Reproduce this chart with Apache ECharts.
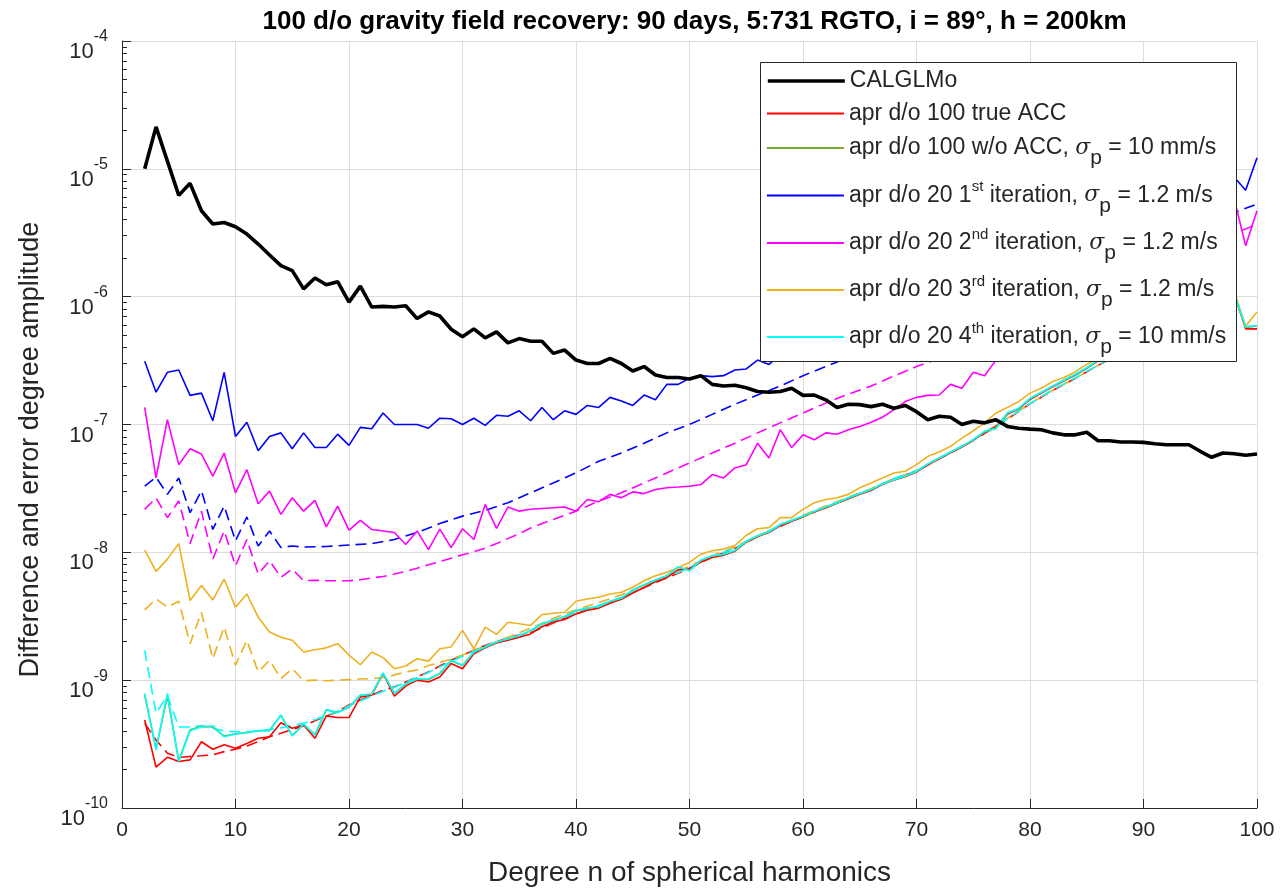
<!DOCTYPE html>
<html><head><meta charset="utf-8">
<script src="https://cdn.jsdelivr.net/npm/echarts@6/dist/echarts.min.js"></script>
<style>html,body{margin:0;padding:0;background:#fff}#c{width:1281px;height:892px}</style>
</head><body><div id="c"></div>
<script>
// ---------- data ----------
const degrees = [2,3,4,5,6,7,8,9,10,11,12,13,14,15,16,17,18,19,20,21,22,23,24,25,26,27,28,29,30,31,32,33,34,35,36,37,38,39,40,41,42,43,44,45,46,47,48,49,50,51,52,53,54,55,56,57,58,59,60,61,62,63,64,65,66,67,68,69,70,71,72,73,74,75,76,77,78,79,80,81,82,83,84,85,86,87,88,89,90,91,92,93,94,95,96,97,98,99,100];

const calglmo = [1.0e-5,2.13e-5,1.15e-5,6.2e-6,7.7e-6,4.7e-6,3.7e-6,3.8e-6,3.52e-6,3.09e-6,
2.58e-6,2.12e-6,1.75e-6,1.6e-6,1.15e-6,1.4e-6,1.24e-6,1.31e-6,9.07e-7,1.21e-6,
8.3e-7,8.4e-7,8.3e-7,8.5e-7,6.74e-7,7.6e-7,7.06e-7,5.56e-7,4.85e-7,5.6e-7,
4.76e-7,5.3e-7,4.35e-7,4.7e-7,4.48e-7,4.48e-7,3.6e-7,3.82e-7,3.19e-7,3.0e-7,
3.0e-7,3.29e-7,3.0e-7,2.62e-7,2.84e-7,2.44e-7,2.33e-7,2.33e-7,2.27e-7,2.41e-7,
2.06e-7,2.0e-7,2.03e-7,1.94e-7,1.81e-7,1.79e-7,1.81e-7,1.92e-7,1.69e-7,1.7e-7,
1.56e-7,1.36e-7,1.44e-7,1.43e-7,1.38e-7,1.44e-7,1.34e-7,1.41e-7,1.26e-7,1.09e-7,
1.16e-7,1.14e-7,1.0e-7,1.06e-7,1.03e-7,1.09e-7,9.66e-8,9.35e-8,9.2e-8,9.1e-8,
8.6e-8,8.3e-8,8.3e-8,8.7e-8,7.46e-8,7.46e-8,7.3e-8,7.3e-8,7.25e-8,7.07e-8,
6.95e-8,6.95e-8,6.95e-8,6.17e-8,5.54e-8,5.98e-8,5.9e-8,5.74e-8,5.87e-8];

const trueAcc = [4.88e-10,2.09e-10,2.49e-10,2.31e-10,2.38e-10,3.3e-10,2.88e-10,3.12e-10,2.93e-10,3.2e-10,
3.51e-10,3.61e-10,4.65e-10,4.2e-10,4.46e-10,3.51e-10,5.25e-10,5.1e-10,5.1e-10,7.4e-10,
7.63e-10,1.13e-9,7.5e-10,8.98e-10,1.0e-9,9.69e-10,1.06e-9,1.35e-9,1.23e-9,1.61e-9,
1.79e-9,1.95e-9,2.05e-9,2.17e-9,2.3e-9,2.62e-9,2.85e-9,2.98e-9,3.3e-9,3.52e-9,
3.66e-9,4.0e-9,4.3e-9,4.8e-9,5.3e-9,5.9e-9,6.35e-9,7.3e-9,7.4e-9,8.4e-9,
9.1e-9,9.5e-9,1.02e-8,1.2e-8,1.33e-8,1.43e-8,1.62e-8,1.75e-8,1.9e-8,2.08e-8,
2.22e-8,2.42e-8,2.62e-8,2.85e-8,3.05e-8,3.4e-8,3.68e-8,3.9e-8,4.25e-8,4.85e-8,
5.4e-8,6.0e-8,6.65e-8,7.5e-8,8.7e-8,9.6e-8,1.2e-7,1.32e-7,1.57e-7,1.76e-7,
1.97e-7,2.2e-7,2.44e-7,2.75e-7,3.15e-7,3.45e-7,3.85e-7,4.25e-7,4.65e-7,5.15e-7,
5.65e-7,6.2e-7,6.8e-7,7.5e-7,8.3e-7,9.2e-7,1.04e-6,5.6e-7,5.6e-7];

const woAcc = [7.6e-10,2.9e-10,7.5e-10,2.35e-10,4.1e-10,4.35e-10,4.3e-10,3.65e-10,3.8e-10,3.9e-10,
4.0e-10,4.05e-10,5.3e-10,3.7e-10,4.5e-10,3.75e-10,5.85e-10,5.6e-10,6.15e-10,7.6e-10,
7.8e-10,1.13e-9,7.9e-10,9.3e-10,1.02e-9,1.01e-9,1.12e-9,1.42e-9,1.3e-9,1.65e-9,
1.81e-9,1.98e-9,2.1e-9,2.23e-9,2.43e-9,2.74e-9,2.94e-9,3.13e-9,3.48e-9,3.65e-9,
3.75e-9,4.12e-9,4.37e-9,5.05e-9,5.55e-9,6.04e-9,6.54e-9,7.65e-9,7.2e-9,8.65e-9,
9.35e-9,9.62e-9,1.03e-8,1.21e-8,1.34e-8,1.44e-8,1.64e-8,1.77e-8,1.91e-8,2.09e-8,
2.25e-8,2.43e-8,2.66e-8,2.87e-8,3.09e-8,3.42e-8,3.7e-8,3.93e-8,4.3e-8,4.9e-8,
5.45e-8,6.07e-8,6.73e-8,7.58e-8,8.8e-8,9.3e-8,1.22e-7,1.33e-7,1.59e-7,1.78e-7,
1.99e-7,2.22e-7,2.46e-7,2.77e-7,3.18e-7,3.49e-7,3.89e-7,4.29e-7,4.69e-7,5.19e-7,
5.69e-7,6.29e-7,6.89e-7,7.59e-7,8.39e-7,9.29e-7,1.04e-6,5.75e-7,5.9e-7];

const iter1 = [3.13e-7,1.79e-7,2.56e-7,2.67e-7,1.69e-7,1.76e-7,1.07e-7,2.56e-7,8.07e-8,1.04e-7,
6.23e-8,8.07e-8,8.6e-8,6.47e-8,8.6e-8,6.6e-8,6.6e-8,8.4e-8,6.87e-8,9.5e-8,
9.25e-8,1.23e-7,1.0e-7,1.0e-7,1.0e-7,9.35e-8,1.12e-7,1.11e-7,1.0e-7,1.12e-7,
9.85e-8,1.18e-7,1.16e-7,1.28e-7,1.07e-7,1.36e-7,1.09e-7,1.28e-7,1.2e-7,1.41e-7,
1.36e-7,1.63e-7,1.53e-7,1.41e-7,1.7e-7,1.56e-7,2.06e-7,2.06e-7,2.3e-7,2.41e-7,
2.37e-7,2.41e-7,2.67e-7,2.72e-7,3.19e-7,2.95e-7,3.5e-7,3.7e-7,4.0e-7,4.2e-7,
4.7e-7,4.9e-7,5.6e-7,5.9e-7,6.5e-7,6.9e-7,7.8e-7,8.2e-7,9.0e-7,9.8e-7,
1.08e-6,1.15e-6,1.28e-6,1.36e-6,1.5e-6,1.62e-6,1.78e-6,1.9e-6,2.1e-6,2.25e-6,
2.5e-6,2.65e-6,2.9e-6,3.1e-6,3.4e-6,3.7e-6,4.0e-6,4.3e-6,4.7e-6,5.0e-6,
5.5e-6,5.9e-6,6.4e-6,6.9e-6,7.4e-6,8.0e-6,8.6e-6,6.8e-6,1.22e-5];

const iter2 = [1.36e-7,3.82e-8,1.09e-7,4.85e-8,6.47e-8,5.87e-8,3.94e-8,5.98e-8,2.92e-8,4.43e-8,
2.4e-8,3.01e-8,1.98e-8,2.67e-8,2.1e-8,2.55e-8,1.58e-8,2.3e-8,1.49e-8,1.78e-8,
1.51e-8,1.47e-8,1.43e-8,1.15e-8,1.47e-8,1.05e-8,1.52e-8,1.09e-8,1.53e-8,1.26e-8,
2.37e-8,1.54e-8,2.26e-8,2.1e-8,2.17e-8,2.2e-8,2.23e-8,2.26e-8,2.1e-8,2.59e-8,
2.49e-8,2.84e-8,2.67e-8,2.97e-8,2.88e-8,3.1e-8,3.2e-8,3.24e-8,3.29e-8,3.39e-8,
4.06e-8,3.82e-8,4.57e-8,4.85e-8,7.14e-8,5.47e-8,9.1e-8,6.6e-8,8.3e-8,7.6e-8,
8.6e-8,8.4e-8,9.1e-8,9.66e-8,1.04e-7,1.14e-7,1.3e-7,1.51e-7,1.63e-7,1.69e-7,
1.7e-7,2.06e-7,1.92e-7,2.56e-7,2.41e-7,3.19e-7,3.6e-7,4.1e-7,4.5e-7,5.2e-7,
5.8e-7,6.6e-7,7.4e-7,8.4e-7,9.5e-7,1.07e-6,1.2e-6,1.36e-6,1.55e-6,1.75e-6,
2.0e-6,2.3e-6,2.65e-6,3.0e-6,3.5e-6,4.3e-6,5.8e-6,2.5e-6,4.7e-6];

const iter3 = [1.04e-8,7.1e-9,8.85e-9,1.17e-8,4.2e-9,5.5e-9,4.24e-9,6.18e-9,3.72e-9,4.72e-9,
3.11e-9,2.38e-9,2.17e-9,2.05e-9,1.66e-9,1.73e-9,1.79e-9,1.93e-9,1.57e-9,1.32e-9,
1.66e-9,1.5e-9,1.23e-9,1.29e-9,1.47e-9,1.41e-9,1.76e-9,1.82e-9,2.45e-9,1.76e-9,
2.6e-9,2.28e-9,2.84e-9,2.76e-9,2.68e-9,3.26e-9,3.34e-9,3.4e-9,4.14e-9,4.32e-9,
4.45e-9,4.72e-9,4.87e-9,5.33e-9,6.0e-9,6.57e-9,6.97e-9,7.62e-9,8.33e-9,9.67e-9,
1.03e-8,1.06e-8,1.13e-8,1.36e-8,1.53e-8,1.56e-8,1.87e-8,1.87e-8,2.17e-8,2.44e-8,
2.59e-8,2.67e-8,2.84e-8,3.2e-8,3.49e-8,3.82e-8,4.18e-8,4.31e-8,4.85e-8,5.64e-8,
6.09e-8,6.75e-8,7.82e-8,8.94e-8,1.03e-7,1.23e-7,1.36e-7,1.51e-7,1.76e-7,1.92e-7,
2.17e-7,2.33e-7,2.59e-7,2.95e-7,3.29e-7,3.6e-7,4.0e-7,4.4e-7,4.9e-7,5.4e-7,
5.9e-7,6.5e-7,7.1e-7,7.9e-7,8.7e-7,9.6e-7,1.1e-6,5.9e-7,7.6e-7];

const iter4 = [7.87e-10,2.85e-10,7.87e-10,2.31e-10,4.03e-10,4.32e-10,4.38e-10,3.61e-10,3.79e-10,3.88e-10,
4.03e-10,4.03e-10,5.34e-10,3.66e-10,4.54e-10,3.73e-10,5.9e-10,5.56e-10,6.19e-10,7.63e-10,
7.77e-10,1.14e-9,7.87e-10,9.4e-10,1.02e-9,1.02e-9,1.13e-9,1.43e-9,1.31e-9,1.66e-9,
1.82e-9,1.99e-9,2.11e-9,2.24e-9,2.45e-9,2.76e-9,2.96e-9,3.15e-9,3.51e-9,3.67e-9,
3.77e-9,4.14e-9,4.39e-9,5.08e-9,5.59e-9,6.07e-9,6.57e-9,7.7e-9,7.17e-9,8.7e-9,
9.4e-9,9.67e-9,1.04e-8,1.22e-8,1.35e-8,1.45e-8,1.65e-8,1.78e-8,1.92e-8,2.1e-8,
2.26e-8,2.44e-8,2.67e-8,2.88e-8,3.1e-8,3.43e-8,3.71e-8,3.94e-8,4.31e-8,4.92e-8,
5.47e-8,6.09e-8,6.75e-8,7.6e-8,8.84e-8,9.35e-8,1.23e-7,1.34e-7,1.6e-7,1.79e-7,
2.0e-7,2.23e-7,2.47e-7,2.78e-7,3.19e-7,3.5e-7,3.9e-7,4.3e-7,4.7e-7,5.2e-7,
5.7e-7,6.3e-7,6.9e-7,7.6e-7,8.4e-7,9.3e-7,1.05e-6,5.8e-7,5.95e-7];

// dashed companion curves: [degree, value]
const trueAccDashed = [[2,4.59e-10],[3,3.41e-10],[4,2.68e-10],[5,2.49e-10],[6,2.53e-10],[7,2.56e-10],[8,2.6e-10],[9,2.76e-10],[10,2.88e-10],[11,3.06e-10],[12,3.3e-10],[13,3.61e-10],[14,3.84e-10],[15,4.12e-10],[16,4.38e-10],[17,4.82e-10],[18,5.25e-10],[19,5.66e-10],[20,6.39e-10],[21,6.98e-10],[22,7.63e-10],[23,8.34e-10],[24,8.86e-10],[25,9.69e-10],[26,1.06e-9],[27,1.16e-9],[28,1.29e-9],[29,1.43e-9],[30,1.57e-9],[31,1.71e-9],[32,1.87e-9],[33,2.0e-9],[34,2.15e-9],[35,2.25e-9],[36,2.35e-9],[38,2.8e-9],[40,3.3e-9],[42,3.8e-9],[44,4.4e-9],[46,5.3e-9],[48,6.3e-9],[50,7.5e-9],[52,9.2e-9],[54,1.07e-8],[56,1.33e-8],[58,1.6e-8],[60,1.9e-8],[62,2.25e-8],[64,2.65e-8],[66,3.1e-8],[68,3.75e-8],[70,4.3e-8],[72,5.4e-8],[74,6.7e-8],[76,8.5e-8],[78,1.1e-7],[80,1.45e-7],[82,1.85e-7],[84,2.3e-7],[86,2.9e-7],[88,3.6e-7],[90,4.5e-7],[92,5.5e-7],[94,6.8e-7],[96,8.3e-7]];
const iter1Dashed = [[2,3.29e-8],[3,3.87e-8],[4,2.84e-8],[5,3.82e-8],[6,2.04e-8],[7,3.04e-8],[8,1.51e-8],[9,2.3e-8],[10,1.23e-8],[11,1.89e-8],[12,1.12e-8],[13,1.47e-8],[14,1.09e-8],[15,1.12e-8],[16,1.1e-8],[18,1.11e-8],[20,1.14e-8],[22,1.17e-8],[24,1.26e-8],[26,1.43e-8],[28,1.68e-8],[30,1.92e-8],[32,2.13e-8],[34,2.44e-8],[36,2.92e-8],[38,3.49e-8],[40,4.18e-8],[42,5.16e-8],[44,5.98e-8],[46,7.14e-8],[48,8.6e-8],[50,1.0e-7],[52,1.2e-7],[54,1.44e-7],[56,1.7e-7],[58,2.0e-7],[60,2.41e-7],[62,2.84e-7],[64,3.33e-7],[68,4.5e-7],[72,6.2e-7],[76,8.4e-7],[80,1.14e-6],[84,1.55e-6],[88,2.1e-6],[92,2.9e-6],[96,3.9e-6],[100,5.3e-6]];
const iter2Dashed = [[2,2.17e-8],[3,2.67e-8],[4,1.87e-8],[5,2.52e-8],[6,1.17e-8],[7,2.1e-8],[8,8.85e-9],[9,1.47e-8],[10,7.86e-9],[11,1.26e-8],[12,6.76e-9],[13,8.6e-9],[14,6.38e-9],[15,7.39e-9],[16,6.0e-9],[17,6.05e-9],[18,6.0e-9],[19,6.0e-9],[20,6.0e-9],[21,6.1e-9],[22,6.3e-9],[23,6.48e-9],[24,6.76e-9],[25,7.1e-9],[26,7.52e-9],[27,8.0e-9],[28,8.46e-9],[29,9.0e-9],[30,9.57e-9],[31,1.01e-8],[32,1.08e-8],[33,1.17e-8],[34,1.28e-8],[35,1.4e-8],[36,1.55e-8],[38,1.81e-8],[40,2.1e-8],[42,2.52e-8],[44,2.92e-8],[46,3.49e-8],[48,4.18e-8],[50,5.0e-8],[52,5.98e-8],[54,7.14e-8],[56,8.6e-8],[58,1.03e-7],[60,1.23e-7],[62,1.47e-7],[64,1.73e-7],[66,2.0e-7],[68,2.39e-7],[70,2.84e-7],[72,3.29e-7],[76,4.65e-7],[80,6.6e-7],[84,9.3e-7],[88,1.31e-6],[92,1.85e-6],[96,2.6e-6],[100,3.7e-6]];
const iter3Dashed = [[2,3.55e-9],[3,4.32e-9],[4,3.72e-9],[5,4.14e-9],[6,1.93e-9],[7,3.4e-9],[8,1.47e-9],[9,2.6e-9],[10,1.31e-9],[11,2.05e-9],[12,1.16e-9],[13,1.43e-9],[14,1.03e-9],[15,1.23e-9],[16,0.99e-9],[17,1.0e-9],[18,0.99e-9],[19,1.0e-9],[20,1.01e-9],[21,1.02e-9],[22,1.03e-9],[23,1.05e-9],[24,1.1e-9],[25,1.16e-9],[26,1.2e-9],[27,1.3e-9],[28,1.38e-9],[29,1.46e-9],[30,1.57e-9],[31,1.73e-9],[32,1.84e-9],[33,2.0e-9],[34,2.17e-9],[35,2.35e-9],[36,2.55e-9],[38,3.05e-9],[40,3.55e-9],[42,4.05e-9],[44,4.65e-9],[46,5.55e-9],[48,6.6e-9],[50,7.8e-9],[52,9.4e-9],[54,1.1e-8],[56,1.35e-8],[58,1.62e-8],[60,1.95e-8],[62,2.3e-8],[64,2.7e-8],[66,3.15e-8],[68,3.78e-8],[70,4.35e-8],[72,5.45e-8],[74,6.75e-8],[76,8.6e-8],[78,1.12e-7],[80,1.45e-7],[82,1.85e-7],[84,2.3e-7],[86,2.9e-7],[88,3.6e-7],[90,4.5e-7],[92,5.5e-7],[94,6.8e-7],[96,8.3e-7]];
const iter4Dashed = [[2,1.71e-9],[3,5.5e-10],[4,7.6e-10],[5,4.3e-10],[6,4.3e-10],[7,4.4e-10],[8,4.2e-10],[9,4.0e-10],[10,3.95e-10],[11,3.95e-10],[12,4.0e-10],[13,4.1e-10],[14,4.25e-10],[15,4.4e-10],[16,4.6e-10],[17,4.9e-10],[18,5.3e-10],[19,5.7e-10],[20,6.3e-10],[21,6.9e-10],[22,7.5e-10],[23,8.2e-10],[24,8.8e-10],[25,9.6e-10],[26,1.05e-9],[27,1.15e-9],[28,1.27e-9],[29,1.4e-9],[30,1.54e-9],[31,1.68e-9],[32,1.84e-9],[33,1.98e-9],[34,2.12e-9],[35,2.25e-9],[36,2.38e-9],[38,2.85e-9],[40,3.35e-9],[42,3.85e-9],[44,4.45e-9],[46,5.35e-9],[48,6.4e-9],[50,7.6e-9],[52,9.3e-9],[54,1.08e-8],[56,1.34e-8],[58,1.62e-8],[60,1.92e-8],[62,2.27e-8],[64,2.67e-8],[66,3.12e-8],[68,3.78e-8],[70,4.35e-8],[72,5.45e-8],[74,6.75e-8],[76,8.6e-8],[78,1.11e-7],[80,1.46e-7],[82,1.87e-7],[84,2.32e-7],[86,2.92e-7],[88,3.62e-7],[90,4.52e-7],[92,5.52e-7],[94,6.82e-7],[96,8.35e-7]];

const minorGridValues = [2e-10,3e-10,4e-10,5e-10,6e-10,7e-10,8e-10,9e-10,
2e-9,3e-9,4e-9,5e-9,6e-9,7e-9,8e-9,9e-9,
2e-8,3e-8,4e-8,5e-8,6e-8,7e-8,8e-8,9e-8,
2e-7,3e-7,4e-7,5e-7,6e-7,7e-7,8e-7,9e-7,
2e-6,3e-6,4e-6,5e-6,6e-6,7e-6,8e-6,9e-6,
2e-5,3e-5,4e-5,5e-5,6e-5,7e-5,8e-5,9e-5];

const legendNames = ['CALGLMo','apr d/o 100 true ACC','apr d/o 100 w/o ACC, σp = 10 mm/s','apr d/o 20 1st iteration, σp = 1.2 m/s','apr d/o 20 2nd iteration, σp = 1.2 m/s','apr d/o 20 3rd iteration, σp = 1.2 m/s','apr d/o 20 4th iteration, σp = 10 mm/s'];
const legendRich = ['CALGLMo','apr d/o 100 true ACC','apr d/o 100 w/o ACC, {sg|σ}{sb|p} = 10 mm/s','apr d/o 20 1{sp|st} iteration, {sg|σ}{sb|p} = 1.2 m/s','apr d/o 20 2{sp|nd} iteration, {sg|σ}{sb|p} = 1.2 m/s','apr d/o 20 3{sp|rd} iteration, {sg|σ}{sb|p} = 1.2 m/s','apr d/o 20 4{sp|th} iteration, {sg|σ}{sb|p} = 10 mm/s'];
const legendRowY = [81, 113.5, 148, 192.5, 240, 287, 334];

// ---------- chart ----------
const FONT = 'Liberation Sans, Arial, Helvetica, sans-serif';
const TXT = '#262626';
const pairs = arr => degrees.map((n, i) => [n, arr[i]]);

function solid(name, arr, color, width, z) {
  return { name, type: 'line', data: pairs(arr), showSymbol: false, symbol: 'none',
    lineStyle: { color, width }, itemStyle: { color }, z: z || 3, silent: true,
    emphasis: { disabled: true }, animation: false };
}
function dashed(name, data, color) {
  return { name, type: 'line', data, showSymbol: false, symbol: 'none',
    lineStyle: { color, width: 1.6, type: [11, 6] }, itemStyle: { color }, z: 2, silent: true,
    emphasis: { disabled: true }, animation: false };
}

const series = [
  { name: 'minor grid', type: 'line', data: [], silent: true, z: 1, animation: false,
    markLine: { silent: true, animation: false, symbol: ['none', 'none'], label: { show: false },
      lineStyle: { color: '#b9b9b9', width: 1, type: [1, 3] },
      emphasis: { disabled: true },
      data: minorGridValues.map(v => ({ yAxis: v })) } },
  dashed('true ACC formal', trueAccDashed, '#ff0000'),
  dashed('1st formal', iter1Dashed, '#0000ff'),
  dashed('2nd formal', iter2Dashed, '#ff00ff'),
  dashed('3rd formal', iter3Dashed, '#edb120'),
  dashed('4th formal', iter4Dashed, '#00ffff'),
  solid(legendNames[1], trueAcc, '#ff0000', 1.6),
  solid(legendNames[2], woAcc, '#77ac30', 1.6),
  solid(legendNames[3], iter1, '#0000ff', 1.6),
  solid(legendNames[4], iter2, '#ff00ff', 1.6),
  solid(legendNames[5], iter3, '#edb120', 1.6),
  solid(legendNames[6], iter4, '#00ffff', 1.6),
  solid(legendNames[0], calglmo, '#000000', 3.6, 4)
];

const richStyles = {
  sg: { fontSize: 22, fontStyle: 'italic', fontFamily: 'DejaVu Serif', color: TXT },
  sb: { fontSize: 21, fontFamily: FONT, color: TXT, padding: [21, 0, 0, 0] },
  sp: { fontSize: 15, fontFamily: FONT, color: TXT, padding: [0, 0, 17, 0] }
};

const legends = legendNames.map((name, i) => ({
  show: true, data: [name], orient: 'vertical', left: 766, top: legendRowY[i] - 13,
  itemWidth: 77, itemHeight: 14, itemGap: 0, padding: 0, z: 10, selectedMode: false,
  itemStyle: { opacity: 0 },
  lineStyle: { width: i === 0 ? 3.6 : 1.8 },
  formatter: () => legendRich[i],
  textStyle: { fontSize: 23, color: TXT, fontFamily: FONT, lineHeight: 26, rich: richStyles }
}));

const chart = echarts.init(document.getElementById('c'), null, { renderer: 'canvas' });
chart.setOption({
  animation: false,
  backgroundColor: '#ffffff',
  title: {
    text: '100 d/o gravity field recovery: 90 days, 5:731 RGTO, i = 89°, h = 200km',
    left: 689.5, textAlign: 'center', top: 4,
    textStyle: { fontSize: 26, fontWeight: 'bold', color: '#000', fontFamily: FONT }
  },
  grid: { left: 122, top: 41, right: 24, bottom: 80, containLabel: false },
  legend: legends,
  graphic: [{ type: 'rect', z: 6, silent: true,
    shape: { x: 760.5, y: 62.5, width: 476, height: 299 },
    style: { fill: '#ffffff', stroke: TXT, lineWidth: 1 } }],
  xAxis: {
    type: 'value', min: 0, max: 100, interval: 10,
    name: 'Degree n of spherical harmonics', nameLocation: 'middle', nameGap: 51,
    nameTextStyle: { fontSize: 28, color: TXT, fontFamily: FONT },
    axisLine: { show: true, onZero: false, lineStyle: { color: TXT, width: 1 } },
    axisTick: { show: true, inside: true, length: 9, lineStyle: { color: TXT } },
    axisLabel: { fontSize: 21, color: TXT, margin: 12, fontFamily: FONT },
    splitLine: { show: true, lineStyle: { color: '#dcdcdc', width: 1 } }
  },
  yAxis: [{
    type: 'log', logBase: 10, min: 1e-10, max: 1e-4, splitNumber: 6,
    name: 'Difference and error degree amplitude', nameLocation: 'middle', nameGap: 78, nameRotate: 90,
    nameTextStyle: { fontSize: 27, color: TXT, fontFamily: FONT, padding: [0, 50, 0, 0] },
    axisLine: { show: true, onZero: false, lineStyle: { color: TXT, width: 1 } },
    axisTick: { show: true, inside: true, length: 9, lineStyle: { color: TXT } },
    axisLabel: { margin: 14, color: TXT,
      formatter: v => '{b|10}{e|' + Math.round(Math.log10(v)) + '}',
      rich: { b: { fontSize: 22, color: TXT, fontFamily: FONT, padding: [22, 0, 0, 0] },
              e: { fontSize: 16, color: TXT, fontFamily: FONT, padding: [0, 0, 8, 0] } } },
    splitLine: { show: true, lineStyle: { color: '#dcdcdc', width: 1 } }
  }, {
    type: 'log', logBase: 10, min: 1e-10, max: 1e-4, position: 'left', offset: 0,
    axisLine: { show: false }, axisLabel: { show: false }, splitLine: { show: false },
    axisTick: { show: true, inside: true, length: 5, lineStyle: { color: TXT }, customValues: minorGridValues }
  }],
  series
});
</script>
</body></html>
